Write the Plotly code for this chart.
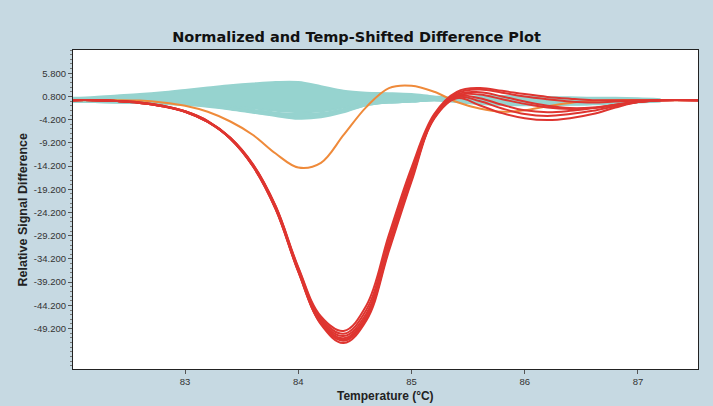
import plotly.graph_objects as go

# Temperature grid (°C)
T = [82.0, 82.2, 82.4, 82.6, 82.8, 83.0, 83.2, 83.4, 83.6, 83.8, 84.0, 84.2, 84.4, 84.6,
     84.8, 85.0, 85.2, 85.4, 85.6, 85.8, 86.0, 86.2, 86.4, 86.6, 86.8, 87.0, 87.2, 87.53]
T_CYAN = [82.0, 82.2, 82.4, 82.6, 82.8, 83.0, 83.2, 83.4, 83.6, 83.8, 84.0, 84.2, 84.4, 84.6,
          84.8, 85.0, 85.2, 85.4, 85.6, 85.8, 86.0, 86.2, 86.4, 86.6, 86.8, 87.0, 87.2]

# Red sample curves
RED = [
    [0, 0, -0.2, -0.6, -1.3, -2.5, -4.7, -8.3, -14.3, -23.5, -37.0, -48.3, -52.3, -47.5, -32.5, -17.5, -4.0, 0.4, -1.1, -2.8, -3.9, -4.3, -3.9, -3.0, -1.6, -0.4, 0, 0],
    [0, 0, -0.2, -0.6, -1.3, -2.5, -4.7, -8.3, -14.2, -23.4, -36.8, -48.0, -51.8, -47.0, -32.0, -17.0, -3.8, 0.8, 0.4, -1.0, -2.2, -2.6, -2.3, -1.7, -1.0, -0.3, 0, 0],
    [0, 0, -0.2, -0.6, -1.3, -2.5, -4.6, -8.2, -14.1, -23.2, -36.6, -47.7, -51.3, -46.6, -31.6, -16.6, -3.7, 1.0, 1.2, 0.2, -0.8, -1.6, -1.9, -1.7, -1.1, -0.4, 0, 0],
    [0, 0, -0.2, -0.5, -1.2, -2.4, -4.6, -8.2, -14.0, -23.0, -36.4, -47.4, -50.8, -46.0, -31.0, -16.0, -3.5, 1.2, 1.7, 0.8, -0.3, -1.2, -1.7, -1.6, -1.0, -0.4, 0, 0],
    [0, 0, -0.2, -0.5, -1.2, -2.4, -4.5, -8.1, -13.9, -22.9, -36.2, -47.0, -50.3, -45.2, -30.0, -15.3, -3.3, 1.5, 2.3, 1.6, 0.8, 0.2, -0.3, -0.5, -0.3, -0.1, 0, 0],
    [0, 0, -0.2, -0.5, -1.2, -2.4, -4.5, -8.1, -13.8, -22.8, -36.0, -46.6, -49.7, -44.3, -29.0, -14.5, -3.0, 1.8, 2.6, 2.0, 1.3, 0.7, 0.3, 0.0, 0, 0, 0, 0],
    [0, 0, -0.2, -0.6, -1.3, -2.5, -4.7, -8.3, -14.2, -23.4, -36.9, -48.1, -51.6, -46.8, -31.8, -16.8, -3.8, 0.6, -0.2, -1.8, -3.0, -3.4, -3.0, -2.3, -1.3, -0.4, 0, 0],
]

# Orange sample curve
ORANGE = [0, 0, 0, -0.1, -0.5, -1.2, -2.5, -4.6, -7.5, -11.5, -14.5, -13.5, -7.5, -1.5,
          2.6, 3.1, 1.8, -0.4, -1.8, -2.5, -2.2, -1.3, -0.6, -0.2, 0, 0, 0, 0]

# Cyan sample curves: dense band edges and individual lower curves
CYAN_HI = [0.5, 0.7, 1.0, 1.3, 1.7, 2.2, 2.7, 3.2, 3.6, 3.9, 3.9, 3.0, 2.0, 1.6, 1.5, 1.3, 0.8,
           0.5, 0.9, 0.9, 0.8, 0.7, 0.6, 0.5, 0.5, 0.4, 0.2]
CYAN_DENSE_LO = [-0.2, -0.3, -0.3, -0.4, -0.5, -0.7, -0.9, -1.3, -1.8, -2.3, -2.6, -2.4, -1.6,
                 -0.7, -0.3, -0.2, 0.1, -0.2, -0.5, -0.7, -0.8, -0.8, -0.7, -0.6, -0.5, -0.3, -0.1]
CYAN_LOW = [
    [-0.2, -0.3, -0.4, -0.5, -0.6, -0.8, -1.1, -1.6, -2.2, -2.8, -3.1, -2.9, -2.0, -0.8, -0.4, -0.2, 0.1, -0.3, -0.7, -0.9, -1.0, -1.0, -0.9, -0.8, -0.6, -0.4, -0.2],
    [-0.2, -0.3, -0.4, -0.5, -0.6, -0.9, -1.2, -1.8, -2.5, -3.1, -3.5, -3.3, -2.3, -1.0, -0.4, -0.2, 0.1, -0.2, -0.6, -0.8, -0.9, -0.9, -0.8, -0.7, -0.5, -0.3, -0.1],
    [-0.2, -0.3, -0.4, -0.5, -0.7, -0.9, -1.3, -1.9, -2.6, -3.3, -3.9, -3.6, -2.5, -1.0, -0.4, -0.2, 0.1, -0.2, -0.6, -0.8, -0.9, -0.9, -0.8, -0.7, -0.5, -0.3, -0.1],
]

Y_TICKS = [5.8, 0.8, -4.2, -9.2, -14.2, -19.2, -24.2, -29.2, -34.2, -39.2, -44.2, -49.2]
X_TICKS = [83, 84, 85, 86, 87]

CYAN = "#96d3cf"
RED_C = "#de3530"
ORANGE_C = "#ef8a3a"
BG = "#c6d9e2"

fig = go.Figure()

fig.add_trace(go.Scatter(x=T_CYAN, y=CYAN_DENSE_LO, mode="lines", line=dict(color=CYAN, width=2, shape="spline"),
                         showlegend=False, hoverinfo="skip"))
fig.add_trace(go.Scatter(x=T_CYAN, y=CYAN_HI, mode="lines", line=dict(color=CYAN, width=2, shape="spline"),
                         fill="tonexty", fillcolor=CYAN, showlegend=False, hoverinfo="skip"))
for c in CYAN_LOW:
    fig.add_trace(go.Scatter(x=T_CYAN, y=c, mode="lines", line=dict(color=CYAN, width=3, shape="spline"),
                             showlegend=False, hoverinfo="skip"))

fig.add_trace(go.Scatter(x=T, y=ORANGE, mode="lines", line=dict(color=ORANGE_C, width=2, shape="spline"),
                         showlegend=False, hoverinfo="skip"))
for r in RED:
    fig.add_trace(go.Scatter(x=T, y=r, mode="lines",
                             line=dict(color=RED_C, width=2, shape="spline", smoothing=1.1),
                             showlegend=False, hoverinfo="skip"))

fig.update_layout(
    width=713, height=406,
    margin=dict(l=73, r=15, t=50, b=37),
    paper_bgcolor=BG, plot_bgcolor="white",
    title=dict(text="<b>Normalized and Temp-Shifted Difference Plot</b>",
               font=dict(family="DejaVu Sans", size=14.5, color="#111"),
               x=0.5, xanchor="center", y=1 - 37 / 406, yanchor="middle", yref="container"),
    xaxis=dict(range=[82.01, 87.53], tickvals=X_TICKS, ticktext=[str(v) for v in X_TICKS],
               showgrid=False, zeroline=False, showline=True, linecolor="#222", linewidth=1, mirror=True,
               ticks="outside", ticklen=4, tickcolor="#555",
               tickfont=dict(family="Liberation Sans", size=9.5, color="#333")),
    yaxis=dict(range=[-57.9, 10.8], tickvals=Y_TICKS, ticktext=["%.3f" % v for v in Y_TICKS],
               showgrid=False, zeroline=False, showline=True, linecolor="#222", linewidth=1, mirror=True,
               ticks="outside", ticklen=4, tickcolor="#555",
               minor=dict(dtick=1, tick0=0.8, ticks="outside", ticklen=2, tickcolor="#777"),
               tickfont=dict(family="Liberation Sans", size=9.5, color="#333")),
    annotations=[
        dict(text="<b>Relative Signal Difference</b>", xref="paper", yref="paper",
             x=(22 - 73) / 625, y=0.5, textangle=-90, showarrow=False, xanchor="center", yanchor="middle",
             font=dict(family="Liberation Sans", size=12.5, color="#222")),
        dict(text="<b>Temperature (°C)</b>", xref="paper", yref="paper",
             x=0.5, y=(369 - 396) / 319, showarrow=False, xanchor="center", yanchor="middle",
             font=dict(family="Liberation Sans", size=12, color="#222")),
    ],
)

fig.write_html("out.html")
